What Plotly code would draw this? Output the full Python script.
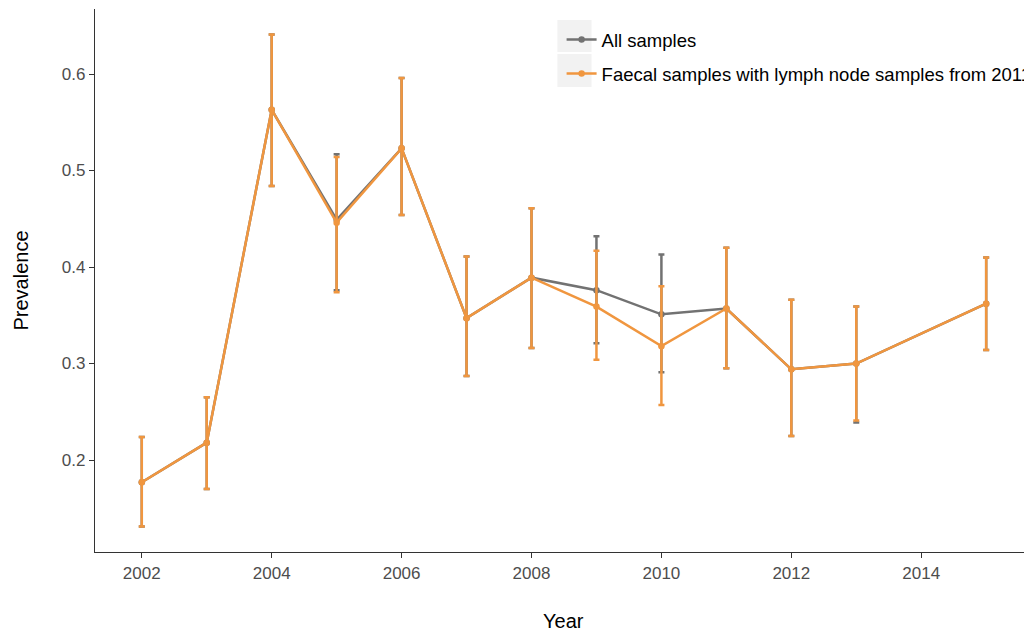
import plotly.graph_objects as go

years = [2002, 2003, 2004, 2005, 2006, 2007, 2008, 2009, 2010, 2011, 2012, 2013, 2015]

all_prev = [0.177, 0.218, 0.563, 0.449, 0.523, 0.347, 0.389, 0.376, 0.351, 0.357, 0.294, 0.300, 0.362]
all_upper = [0.224, 0.265, 0.641, 0.517, 0.596, 0.411, 0.461, 0.432, 0.413, 0.420, 0.366, 0.359, 0.410]
all_lower = [0.131, 0.170, 0.484, 0.376, 0.454, 0.287, 0.316, 0.321, 0.291, 0.295, 0.225, 0.239, 0.314]

faecal_prev = [0.177, 0.218, 0.563, 0.446, 0.523, 0.347, 0.389, 0.359, 0.318, 0.357, 0.294, 0.300, 0.362]
faecal_upper = [0.224, 0.265, 0.641, 0.514, 0.596, 0.411, 0.461, 0.417, 0.380, 0.420, 0.366, 0.359, 0.410]
faecal_lower = [0.131, 0.170, 0.484, 0.374, 0.454, 0.287, 0.316, 0.304, 0.257, 0.295, 0.225, 0.241, 0.314]

series_names = ["All samples", "Faecal samples with lymph node samples from 2011"]
x_ticks = [2002, 2004, 2006, 2008, 2010, 2012, 2014]
y_ticks = [0.2, 0.3, 0.4, 0.5, 0.6]

GRAY = "#727272"
ORANGE = "#F0963F"
FONT = "Liberation Sans, Arial"

fig = go.Figure()

def add_series(name, y, up, lo, color, group):
    fig.add_trace(go.Scatter(
        x=years, y=y, name=name, mode="lines+markers", legendgroup=group,
        line=dict(color=color, width=2.5),
        marker=dict(color=color, size=6.5),
        error_y=dict(type="data", symmetric=False,
                     array=[u - v for u, v in zip(up, y)],
                     arrayminus=[v - l for v, l in zip(y, lo)],
                     color=color, thickness=2.5, width=3),
    ))

add_series(series_names[0], all_prev, all_upper, all_lower, GRAY, "a")
add_series(series_names[1], faecal_prev, faecal_upper, faecal_lower, ORANGE, "b")

# legend key backgrounds (ggplot style)
for y0, y1 in [(0.9208, 0.9797), (0.8564, 0.9171)]:
    fig.add_shape(type="rect", xref="paper", yref="paper",
                  x0=0.494, x1=0.5305, y0=y0, y1=y1,
                  fillcolor="#F2F2F2", line=dict(width=0), layer="below")

axis_common = dict(
    showgrid=False, zeroline=False, showline=True, linecolor="#333333", linewidth=1.3,
    ticks="outside", ticklen=5, tickcolor="#333333", tickwidth=1.3,
    tickfont=dict(family=FONT, size=17, color="#4D4D4D"),
    automargin=False,
)

# the page body adds an 8px offset, so the figure is drawn 8px smaller
fig.update_layout(
    width=1024, height=624,
    margin=dict(l=87, r=1, t=1, b=80, autoexpand=False),
    plot_bgcolor="white", paper_bgcolor="white",
    font=dict(family=FONT, color="black"),
    xaxis=dict(axis_common, range=[2001.28, 2015.69], tickvals=x_ticks),
    yaxis=dict(axis_common, range=[0.1047, 0.6674], tickvals=y_ticks, tickformat=".1f"),
    legend=dict(x=0.4985, y=0.978, xanchor="left", yanchor="top",
                bgcolor="rgba(0,0,0,0)", font=dict(family=FONT, size=18.5, color="black"),
                itemwidth=30, tracegroupgap=7),
    showlegend=True,
    annotations=[
        dict(text="Year", xref="paper", yref="paper", x=0.5, y=0, yshift=-69,
             xanchor="center", yanchor="middle", showarrow=False,
             font=dict(family=FONT, size=20, color="black")),
        dict(text="Prevalence", xref="paper", yref="paper", x=0, y=0.5, xshift=-75,
             xanchor="center", yanchor="middle", showarrow=False, textangle=-90,
             font=dict(family=FONT, size=20, color="black")),
    ],
)

fig.write_html("out.html")
